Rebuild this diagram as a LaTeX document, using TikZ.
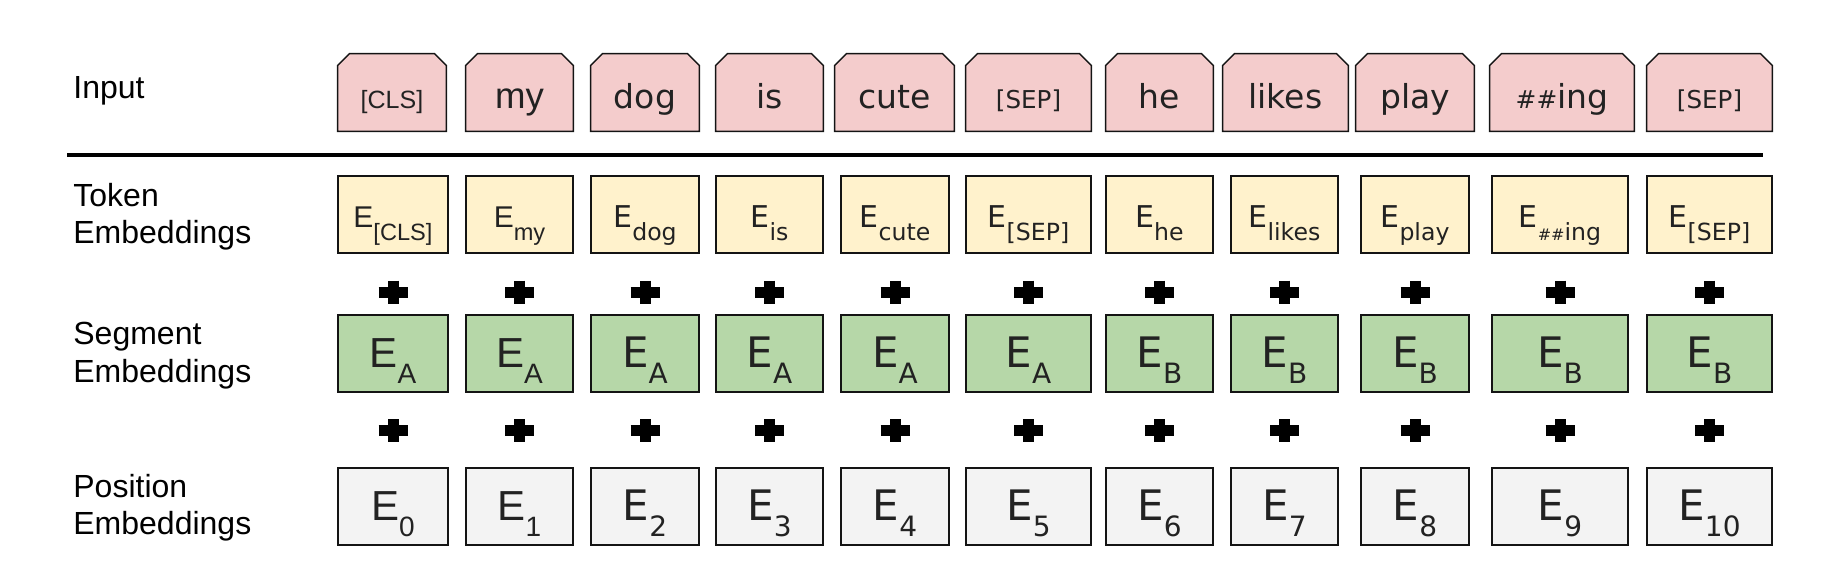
\documentclass[tikz,border=0pt]{standalone}
\usepackage{fontspec}
\setmainfont{DejaVu Sans}
\newfontfamily\arialfont{Liberation Sans}
\usetikzlibrary{backgrounds}

\definecolor{inpink}{HTML}{F4CCCC}
\definecolor{tokyellow}{HTML}{FFF2CC}
\definecolor{seggreen}{HTML}{B6D7A8}
\definecolor{posgray}{HTML}{F3F3F3}
\definecolor{boxline}{HTML}{141414}
\definecolor{txt}{HTML}{222222}

% fonts of the input tokens
\newcommand\tokA{\arialfont\fontsize{18.3}{20}\selectfont}
\newcommand\tokAs{\arialfont\fontsize{12.5}{14}\selectfont}
\newcommand\tokD{\fontsize{16.5}{18}\selectfont}
\newcommand\tokDs{\fontsize{12.3}{14}\selectfont}
% embedding labels
\newcommand\embtok[1]{\fontsize{15}{15}\selectfont E\raisebox{-6.5pt}{\fontsize{11.8}{12}\selectfont #1}}
\newcommand\embbig[1]{\fontsize{21}{21}\selectfont E\raisebox{-8pt}{\fontsize{14}{14}\selectfont #1}}

\tikzset{
  box/.style={draw=boxline, line width=0.7pt, inner sep=0pt, text=txt, minimum height=38.5pt},
  intext/.style={inner sep=0pt, text=txt, minimum height=38.5pt, text height=15.5pt, text depth=0pt},
  inshape/.style={draw=boxline, line width=0.7pt, fill=inpink, line join=miter},
  tokbox/.style={box, rectangle, fill=tokyellow, text height=12.5pt, text depth=0pt},
  segbox/.style={box, rectangle, fill=seggreen, text height=14pt, text depth=0pt},
  posbox/.style={box, rectangle, fill=posgray, text height=14pt, text depth=0pt},
  rowlabel/.style={align=left, inner sep=0pt, anchor=west, text=black,
    font=\arialfont\fontsize{16}{18.75}\selectfont},
  plusbar/.style={line width=5.5pt, black},
  rule/.style={line width=2.25pt, black}
}

\begin{document}
\begin{tikzpicture}[x=0.5pt, y=-0.5pt]
    \useasboundingbox (0,0) rectangle (1822,586);

    % row labels
    \node[rowlabel, anchor=base west] (lblin)  at (73,98)  {Input};
    \node[rowlabel] (lbltok) at (73,216.5) {Token\\Embeddings};
    \node[rowlabel] (lblseg) at (73,355.5) {Segment\\Embeddings};
    \node[rowlabel] (lblpos) at (73,507.5) {Position\\Embeddings};

    % input tokens
    \foreach \cx/\w/\f/\tx [count=\i from 0] in {
        392/108/\tokAs/[CLS], 519.5/107/\tokA/my, 645/108/\tokD/dog,
        769.5/107/\tokD/is, 894.5/119/\tokD/cute, 1028.5/125/\tokDs/[SEP],
        1159.5/107/\tokD/he, 1285.5/125/\tokD/likes, 1415/118/\tokD/play,
        1562/144/\tokD/{\fontsize{12.4}{14}\selectfont\#\#}ing, 1709.5/125/\tokDs/[SEP]}
    {
      \node[intext, minimum width=0.5pt*\w] (in\i) at (\cx,92.5) {\f \tx};
      \begin{pgfonlayer}{background}
        \filldraw[inshape] (in\i.south west) -- ([yshift=-6pt]in\i.north west)
          -- ([xshift=6pt]in\i.north west) -- ([xshift=-6pt]in\i.north east)
          -- ([yshift=-6pt]in\i.north east) -- (in\i.south east) -- cycle;
      \end{pgfonlayer}
    }

    % separator
    \coordinate (rule west) at (67,155);
    \coordinate (rule east) at (1763,155);
    \draw[rule] (rule west) -- (rule east);

    % embeddings
    \foreach \cx/\w/\f/\sub/\seg [count=\i from 0] in {
        393/110/\arialfont/[CLS]/A, 519.5/107/\arialfont/my/A, 645/108/\relax/dog/A,
        769.5/107/\relax/is/A, 895/108/\relax/cute/A, 1028.5/125/\relax/[SEP]/A,
        1159.5/107/\relax/he/B, 1284.5/107/\relax/likes/B, 1415/108/\relax/play/B,
        1560/136/\relax/{\fontsize{8}{8}\selectfont\#\#}ing/B, 1709.5/125/\relax/[SEP]/B}
    {
      \node[tokbox, minimum width=0.5pt*\w] (tok\i) at (\cx,214.5) {\f\embtok{\sub}};
      \node[segbox, minimum width=0.5pt*\w] (seg\i) at (\cx,353.5) {\f\embbig{\seg}};
      \node[posbox, minimum width=0.5pt*\w] (pos\i) at (\cx,506.5) {\f\embbig{\i}};
      % plus signs
      \path (tok\i.south) ++(0,38.5) coordinate (pa\i);
      \path (seg\i.south) ++(0,38) coordinate (pb\i);
      \draw[plusbar] (pa\i) ++(-14.5,0) -- ++(29,0) (pa\i) ++(0,-11.5) -- ++(0,23);
      \draw[plusbar] (pb\i) ++(-14.5,0) -- ++(29,0) (pb\i) ++(0,-11.5) -- ++(0,23);
    }
\end{tikzpicture}
\end{document}
